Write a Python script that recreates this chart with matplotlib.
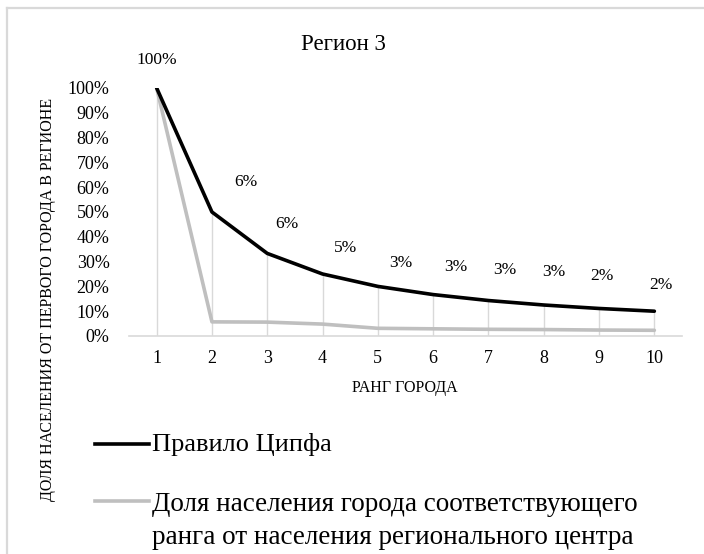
import matplotlib.pyplot as plt
from matplotlib.lines import Line2D

# 数据
ranks = [1, 2, 3, 4, 5, 6, 7, 8, 9, 10]
zipf_share = [1.0, 0.5, 0.333, 0.25, 0.2, 0.167, 0.143, 0.125, 0.111, 0.1]
city_share = [1.0, 0.057, 0.056, 0.048, 0.031, 0.029, 0.027, 0.026, 0.024, 0.023]
y_ticks = [0, 0.1, 0.2, 0.3, 0.4, 0.5, 0.6, 0.7, 0.8, 0.9, 1.0]

title = 'Регион 3'
x_title = 'РАНГ ГОРОДА'
y_title = 'ДОЛЯ НАСЕЛЕНИЯ ОТ ПЕРВОГО ГОРОДА В РЕГИОНЕ'
name_zipf = 'Правило Ципфа'
name_city = 'Доля населения города соответствующего\nранга от населения регионального центра'

# 数据标签的偏移(像素)
label_offsets = [(0, 28), (34, 30), (20, 29), (23, 26), (23, 23),
                 (23, 28), (16, 31), (10, 33), (3, 32), (7, 26)]

plt.rcParams['font.family'] = ['Liberation Serif', 'DejaVu Serif']

fig = plt.figure(figsize=(7.04, 5.54), dpi=100)
ax = fig.add_axes([129 / 704, 1 - 336 / 554, 553 / 704, 248 / 554])

black = '#000000'
gray = '#bfbfbf'
grid = '#d9d9d9'

# 垂直线
ax.vlines(ranks, 0, zipf_share, color=grid, lw=1, zorder=1)
ax.plot(ranks, zipf_share, color=black, lw=2.6, solid_capstyle='round', zorder=3)
ax.plot(ranks, city_share, color=gray, lw=2.6, solid_capstyle='round', zorder=2)

for x, y, v, (dx, dy) in zip(ranks, zipf_share, city_share, label_offsets):
    ax.annotate(f'{v:.0%}', (x, y), xytext=(dx, dy), textcoords='offset pixels',
                ha='center', va='center', fontsize=12.5, annotation_clip=False)

ax.set_xlim(0.5, 10.5)
ax.set_ylim(0, 1)
ax.set_xticks(ranks)
ax.set_xticklabels([str(r) for r in ranks])
ax.set_yticks(y_ticks)
ax.set_yticklabels([f'{t:.0%}' for t in y_ticks])
ax.tick_params(axis='both', length=0, labelsize=13)
ax.tick_params(axis='y', pad=14)
ax.tick_params(axis='x', pad=10)
for side in ['top', 'right', 'left']:
    ax.spines[side].set_visible(False)
ax.spines['bottom'].set_color(grid)
ax.spines['bottom'].set_linewidth(1.2)

fig.text(343 / 704, 1 - 45 / 554, title, ha='center', va='center', fontsize=16.5)
fig.text(405 / 704, 1 - 388 / 554, x_title, ha='center', va='center', fontsize=11.5)
fig.text(48 / 704, 1 - 299 / 554, y_title, ha='center', va='center', fontsize=11.5,
         rotation=90)

# 图例
fig.add_artist(Line2D([95 / 704, 149 / 704], [1 - 444 / 554] * 2, color=black, lw=2.6))
fig.text(152 / 704, 1 - 445 / 554, name_zipf, ha='left', va='center', fontsize=19)
fig.add_artist(Line2D([95 / 704, 149 / 704], [1 - 501 / 554] * 2, color=gray, lw=2.6))
fig.text(152 / 704, 1 - 521 / 554, name_city, ha='left', va='center', fontsize=19.5,
         linespacing=1.4)

# 边框
fig.add_artist(Line2D([7 / 704, 1], [1 - 7.5 / 554] * 2, color=grid, lw=1.6))
fig.add_artist(Line2D([7 / 704] * 2, [0, 1 - 7.5 / 554], color=grid, lw=1.6))

plt.savefig('out.png', dpi=100)
